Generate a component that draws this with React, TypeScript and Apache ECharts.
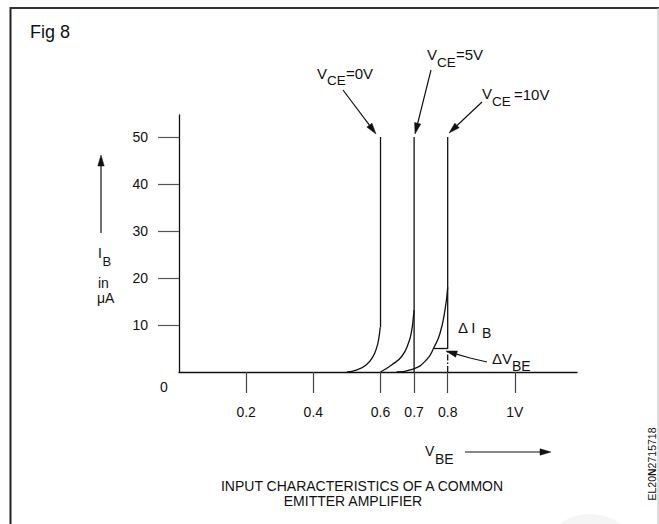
import React, { useEffect, useRef } from 'react';
import * as echarts from 'echarts';

// ---- data ----
const xTickValues = [0.2, 0.4, 0.6, 0.7, 0.8, 1];
const yTickValues = [10, 20, 30, 40, 50];

// knee curves (V_BE in volts, I_B in µA)
const curveVce0 = [[0.5, 0], [0.53, 0.45], [0.557, 1.5], [0.577, 3.2], [0.589, 5.3], [0.595, 7.2], [0.599, 9.5]];
const riseVce0 = [[0.6, 9.5], [0.6, 50]];

const curveVce5 = [[0.6, 0], [0.633, 1.5], [0.663, 3.3], [0.683, 6.1], [0.693, 8.9], [0.698, 11.8], [0.7, 13.2]];
const riseVce5 = [[0.7, 0], [0.7, 50]];

const curveVce10 = [[0.648, 0], [0.697, 0.6], [0.737, 2.6], [0.759, 5.2], [0.777, 8.2], [0.792, 13.2], [0.8, 18]];
const riseVce10 = [[0.8, 5], [0.8, 50]];
const dropVce10 = [[0.8, 0], [0.8, 5]];
const deltaVbeStep = [[0.759, 5], [0.8, 5]];

const FONT = '"Liberation Sans", Arial, Helvetica, sans-serif';
const INK = '#111';

function txt(text: string, x: number, y: number, fontSize: number, align = 'left', extra: any = {}) {
  return {
    type: 'text',
    x,
    y,
    silent: true,
    z: 10,
    ...extra,
    style: {
      text,
      fontSize,
      fontFamily: FONT,
      fill: INK,
      align,
      textAlign: align,
      verticalAlign: 'middle',
      textVerticalAlign: 'middle',
      ...(extra.style || {}),
    },
  };
}

function arrow(points: number[][], head = 11, half = 3.2) {
  const n = points.length;
  const tip = points[n - 1];
  const prev = points[n - 2];
  const dx = tip[0] - prev[0];
  const dy = tip[1] - prev[1];
  const len = Math.hypot(dx, dy);
  const ux = dx / len;
  const uy = dy / len;
  const bx = tip[0] - ux * head;
  const by = tip[1] - uy * head;
  const shaft = points.slice(0, n - 1).concat([[bx, by]]);
  return [
    {
      type: 'polyline',
      silent: true,
      z: 10,
      shape: { points: shaft },
      style: { stroke: INK, lineWidth: 1.2, fill: null },
    },
    {
      type: 'polygon',
      silent: true,
      z: 10,
      shape: {
        points: [
          tip,
          [bx - uy * half, by + ux * half],
          [bx + uy * half, by - ux * half],
        ],
      },
      style: { fill: INK, stroke: INK, lineWidth: 0.5 },
    },
  ];
}

function lineSeries(data: number[][], smooth: boolean, dashed = false) {
  return {
    type: 'line',
    data,
    smooth: smooth ? 0.5 : false,
    showSymbol: false,
    symbol: 'none',
    silent: true,
    clip: false,
    lineStyle: {
      color: INK,
      width: 1.3,
      type: dashed ? [6, 2, 1.5, 2] : 'solid',
    },
  };
}

export default function App() {
  const ref = useRef<HTMLDivElement>(null);

  useEffect(() => {
    if (!ref.current) return;
    const chart = echarts.init(ref.current, null, { renderer: 'svg' });

    const graphics: any[] = [
      // watermark
      { type: 'circle', silent: true, z: 0, shape: { cx: 590, cy: 566, r: 52 }, style: { fill: '#f5f5f5' } },
      // frame
      { type: 'line', silent: true, z: 5, shape: { x1: 10.5, y1: 7, x2: 10.5, y2: 524 }, style: { stroke: '#222', lineWidth: 2 } },
      { type: 'line', silent: true, z: 5, shape: { x1: 10, y1: 8, x2: 659, y2: 8 }, style: { stroke: '#333', lineWidth: 2 } },
      { type: 'line', silent: true, z: 5, shape: { x1: 658, y1: 8, x2: 658, y2: 524 }, style: { stroke: '#bbb', lineWidth: 1 } },

      txt('Fig 8', 30, 31.5, 18),

      // V_CE = 0V
      txt('V', 317, 73, 15),
      txt('CE', 327, 80.5, 13.5),
      txt('=0V', 346, 73, 15),
      // V_CE = 5V
      txt('V', 427, 54, 15),
      txt('CE', 437, 62, 13.5),
      txt('=5V', 456, 54.5, 15),
      // V_CE = 10V
      txt('V', 482, 93, 15),
      txt('CE', 492, 101, 13.5),
      txt('=10V', 514, 94, 15),

      // Δ I_B
      txt('Δ I', 458, 327, 15),
      txt('B', 482, 333, 14),
      // Δ V_BE
      txt('ΔV', 492, 358.5, 15),
      txt('BE', 512, 366, 14),

      // y-axis name
      txt('I', 98, 252.5, 14),
      txt('B', 102.5, 261.5, 13),
      txt('in', 98, 282.5, 14),
      txt('μA', 97, 298, 14),

      // origin label
      txt('0', 164, 387, 14, 'center'),

      // x-axis name
      txt('V', 425, 451, 14),
      txt('BE', 435, 459, 14),

      // caption
      txt('INPUT CHARACTERISTICS OF A COMMON', 362, 486, 14, 'center'),
      txt('EMITTER AMPLIFIER', 353, 501, 14, 'center'),

      // side code
      {
        type: 'text',
        silent: true,
        z: 10,
        x: 652,
        y: 464,
        rotation: Math.PI / 2,
        style: {
          text: '{a|EL20}{b|N}{a|2715718}',
          align: 'center',
          textAlign: 'center',
          verticalAlign: 'middle',
          textVerticalAlign: 'middle',
          rich: {
            a: { fontSize: 10.5, fontFamily: FONT, fill: INK },
            b: { fontSize: 10.5, fontFamily: FONT, fill: INK, fontWeight: 'bold' },
          },
        },
      },

      ...arrow([[343, 90], [376, 134]]),
      ...arrow([[431, 70], [415, 134]]),
      ...arrow([[482, 102], [449, 133]]),
      ...arrow([[487, 362], [470, 358], [446, 351]]),
      ...arrow([[101, 233], [101, 155]]),
      ...arrow([[465, 452], [551, 452]]),
    ];

    chart.setOption({
      animation: false,
      backgroundColor: '#fff',
      textStyle: { fontFamily: FONT },
      grid: { left: 179, top: 115, right: 82, bottom: 152, containLabel: false },
      xAxis: {
        type: 'value',
        min: 0,
        max: 1.185,
        splitLine: { show: false },
        axisLine: { show: true, lineStyle: { color: INK, width: 1.3 } },
        axisTick: {
          show: true,
          customValues: xTickValues,
          length: 21,
          lineStyle: { color: '#444', width: 1.2 },
        },
        axisLabel: {
          show: true,
          customValues: xTickValues,
          margin: 33,
          fontSize: 14,
          fontFamily: FONT,
          color: INK,
          formatter: (v: number) => (v === 1 ? '1V' : String(v)),
        },
      },
      yAxis: {
        type: 'value',
        min: 0,
        max: 54.68,
        splitLine: { show: false },
        axisLine: { show: true, lineStyle: { color: INK, width: 1.3 } },
        axisTick: {
          show: true,
          customValues: yTickValues,
          length: 21,
          lineStyle: { color: '#555', width: 1.2 },
        },
        axisLabel: {
          show: true,
          customValues: yTickValues,
          margin: 31,
          fontSize: 14,
          fontFamily: FONT,
          color: INK,
          padding: [6, 0, 0, 0],
        },
      },
      series: [
        lineSeries(curveVce0, true),
        lineSeries(riseVce0, false),
        lineSeries(curveVce5, true),
        lineSeries(riseVce5, false),
        lineSeries(curveVce10, true),
        lineSeries(riseVce10, false),
        lineSeries(dropVce10, false, true),
        lineSeries(deltaVbeStep, false),
      ],
      graphic: graphics,
    });

    return () => chart.dispose();
  }, []);

  return (
    <div
      ref={ref}
      style={{ position: 'fixed', left: 0, top: 0, width: 659, height: 524, background: '#fff' }}
    />
  );
}
